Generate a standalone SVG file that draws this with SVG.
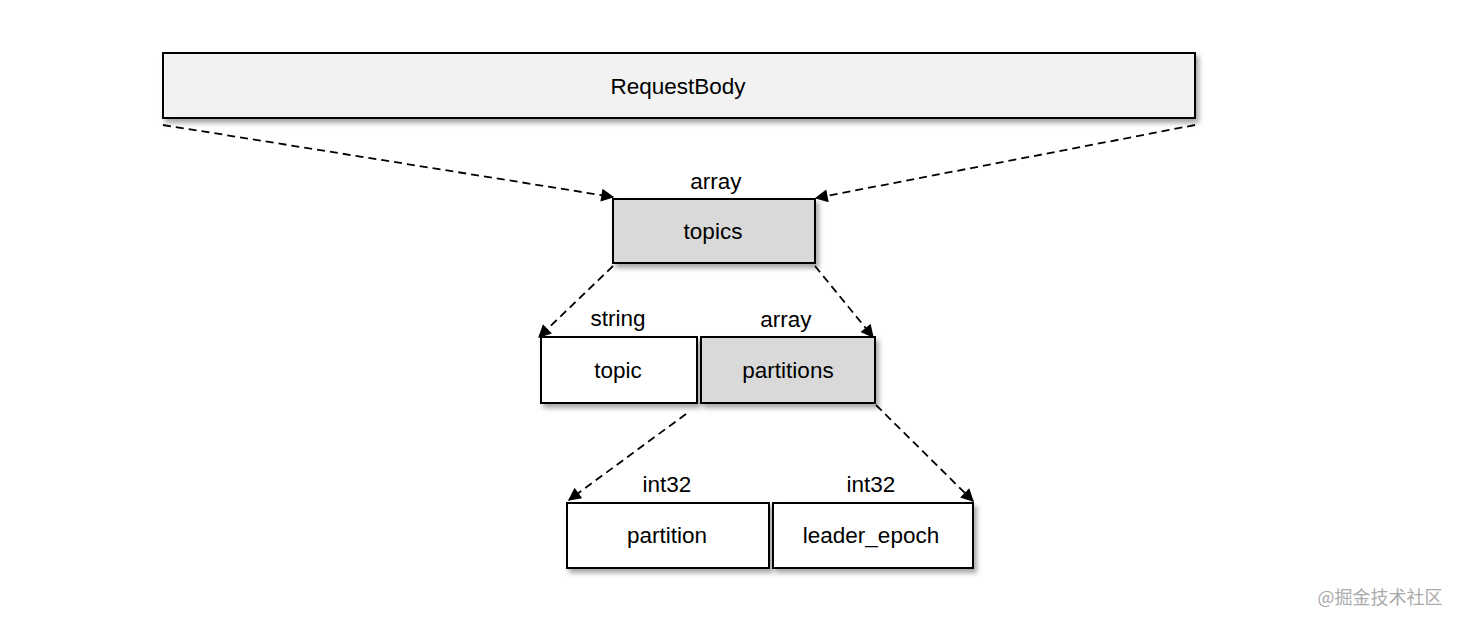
<svg xmlns="http://www.w3.org/2000/svg" width="1462" height="626" viewBox="0 0 1462 626">
<style>
.box{stroke:#000;stroke-width:2}
.lbl{font-family:"Liberation Sans",Arial,sans-serif;font-size:22.5px;fill:#000;text-anchor:middle}
.conn{stroke:#000;stroke-width:1.8;stroke-dasharray:8,5;fill:none}
</style>
<defs>
<filter id="sh" x="-10%" y="-20%" width="130%" height="160%">
<feDropShadow dx="3" dy="4" stdDeviation="2.5" flood-color="#000" flood-opacity="0.35"/>
</filter>
<marker id="ah" viewBox="0 0 10 10" refX="9" refY="5" markerWidth="14" markerHeight="13" markerUnits="userSpaceOnUse" orient="auto">
<path d="M0,0 L10,5 L0,10 z" fill="#000"/>
</marker>
</defs>
<rect width="1462" height="626" fill="#fff"/>
<g id="connectors">
<line class="conn" x1="163" y1="125" x2="613" y2="197" marker-end="url(#ah)"/>
<line class="conn" x1="1195" y1="125" x2="816" y2="198" marker-end="url(#ah)"/>
<line class="conn" x1="613" y1="266" x2="539" y2="337" marker-end="url(#ah)"/>
<line class="conn" x1="815" y1="266" x2="873" y2="337" marker-end="url(#ah)"/>
<line class="conn" x1="686" y1="414" x2="569" y2="500" marker-end="url(#ah)"/>
<line class="conn" x1="876" y1="405" x2="973" y2="501" marker-end="url(#ah)"/>
</g>
<g id="requestbody">
<rect class="box" x="163" y="53" width="1032" height="65" fill="#f2f2f2" filter="url(#sh)"/>
<text class="lbl" x="678" y="94">RequestBody</text>
</g>
<g id="topics">
<text class="lbl" x="716" y="189">array</text>
<rect class="box" x="613" y="199" width="202" height="64" fill="#d9d9d9" filter="url(#sh)"/>
<text class="lbl" x="713" y="239">topics</text>
</g>
<g id="topic">
<text class="lbl" x="618" y="326">string</text>
<rect class="box" x="541" y="337" width="156" height="66" fill="#fff" filter="url(#sh)"/>
<text class="lbl" x="618" y="378">topic</text>
</g>
<g id="partitions">
<text class="lbl" x="786" y="327">array</text>
<rect class="box" x="701" y="337" width="174" height="66" fill="#d9d9d9" filter="url(#sh)"/>
<text class="lbl" x="788" y="378">partitions</text>
</g>
<g id="partition">
<text class="lbl" x="667" y="492">int32</text>
<rect class="box" x="567" y="503" width="202" height="65" fill="#fff" filter="url(#sh)"/>
<text class="lbl" x="667" y="543">partition</text>
</g>
<g id="leader_epoch">
<text class="lbl" x="871" y="492">int32</text>
<rect class="box" x="773" y="503" width="200" height="65" fill="#fff" filter="url(#sh)"/>
<text class="lbl" x="871" y="543">leader_epoch</text>
</g>
<text x="1380" y="604" font-family="Noto Sans CJK SC,sans-serif" font-size="18" fill="#aaa" text-anchor="middle">@掘金技术社区</text>
</svg>
